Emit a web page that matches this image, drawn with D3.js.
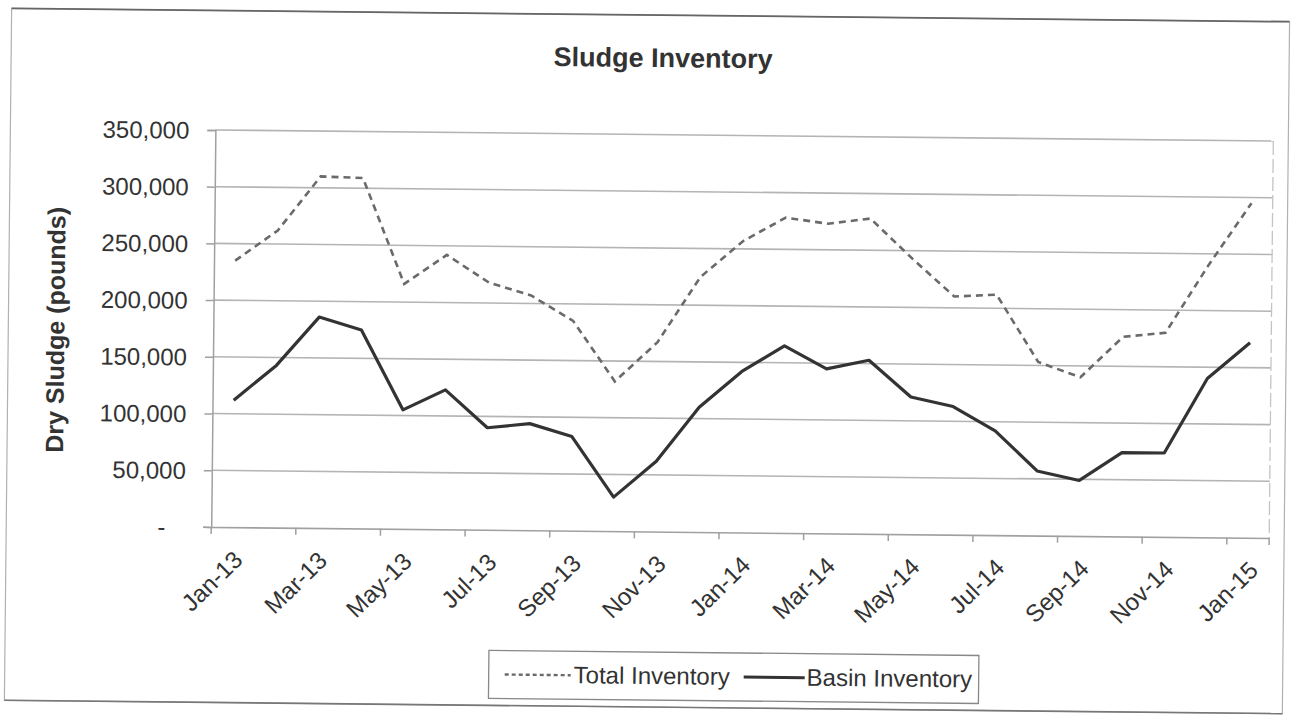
<!DOCTYPE html>
<html>
<head>
<meta charset="utf-8">
<script src="https://cdn.jsdelivr.net/npm/d3@7"></script>
<style>
  html, body { margin: 0; padding: 0; background: #fff; }
  svg { display: block; font-family: "Liberation Sans", Arial, sans-serif; }
</style>
</head>
<body>
<svg id="chart" width="1294" height="719"></svg>
<script>
const months = ["Jan-13","Feb-13","Mar-13","Apr-13","May-13","Jun-13","Jul-13","Aug-13","Sep-13","Oct-13","Nov-13","Dec-13",
                "Jan-14","Feb-14","Mar-14","Apr-14","May-14","Jun-14","Jul-14","Aug-14","Sep-14","Oct-14","Nov-14","Dec-14","Jan-15"];
const totalInventory = [235000, 262000, 310000, 309000, 216000, 242000, 218000, 207000, 185000, 132000, 167000, 225000,
                        257000, 278000, 273000, 278000, 243000, 210000, 212000, 153000, 140000, 176000, 180000, 240000, 295000];
const basinInventory = [112000, 143000, 186000, 175000, 105000, 123000, 90000, 94000, 83000, 30000, 62000, 110000,
                        142000, 165000, 145000, 153000, 121000, 113000, 92000, 57000, 49000, 74000, 74000, 140000, 172000];
const yTicks = [0, 50000, 100000, 150000, 200000, 250000, 300000, 350000];
const seriesNames = ["Total Inventory", "Basin Inventory"];

const svg = d3.select("#chart");
const W = 1294, H = 719;
const root = svg.append("g").attr("transform", `rotate(0.6, ${W/2}, ${H/2})`);

// outer frame
root.append("rect").attr("x", 8).attr("y", 15).attr("width", 1278).attr("height", 692)
  .attr("fill", "none").attr("stroke", "#b0b0b0").attr("stroke-width", 1.2);
root.append("line").attr("x1", 8).attr("x2", 1286).attr("y1", 15).attr("y2", 15)
  .attr("stroke", "#666").attr("stroke-width", 1.8);
root.append("line").attr("x1", 8).attr("x2", 1286).attr("y1", 707).attr("y2", 707)
  .attr("stroke", "#777").attr("stroke-width", 1.6);

const plot = {left: 213, right: 1271, top: 134.5, bottom: 531.5};
const x = d3.scaleBand().domain(months).range([plot.left, plot.right]).paddingInner(0).paddingOuter(0);
const cx = d => x(d) + x.bandwidth() / 2;
const y = d3.scaleLinear().domain([0, 350000]).range([plot.bottom, plot.top]);

// gridlines
root.append("g").selectAll("line").data(yTicks.filter(v => v > 0)).join("line")
  .attr("x1", plot.left).attr("x2", plot.right)
  .attr("y1", d => y(d)).attr("y2", d => y(d))
  .attr("stroke", "#b4b4b4").attr("stroke-width", 1.6);

// right border of plot area
root.append("line").attr("x1", plot.right).attr("x2", plot.right).attr("y1", plot.top).attr("y2", plot.bottom)
  .attr("stroke", "#c4c4c4").attr("stroke-width", 1.3).attr("stroke-dasharray", "14,4");

// y axis
const yAxis = d3.axisLeft(y).tickValues(yTicks).tickSize(8).tickPadding(18)
  .tickFormat(d => d === 0 ? "-" : d3.format(",")(d));
const yg = root.append("g").attr("transform", `translate(${plot.left},0)`).call(yAxis);
yg.select(".domain").attr("stroke", "#a0a0a0").attr("stroke-width", 1.5);
yg.selectAll(".tick line").attr("stroke", "#a0a0a0").attr("stroke-width", 1.5);
yg.selectAll(".tick text").attr("fill", "#333").attr("font-size", 24)
  .attr("font-family", "'Liberation Sans', Arial, sans-serif")
  .attr("dx", d => d === 0 ? -20 : 0).attr("dy", "0.35em");

// x axis
const labeled = months.filter((m, i) => i % 2 === 0);
const xAxis = d3.axisBottom(x).tickValues([]).tickSize(0);
const xg = root.append("g").attr("transform", `translate(0,${plot.bottom})`).call(xAxis);
xg.select(".domain").attr("stroke", "#a0a0a0").attr("stroke-width", 1.6);
xg.selectAll(".mtick").data(labeled.concat(["__end"])).join("line").attr("class", "mtick")
  .attr("x1", d => d === "__end" ? plot.right : x(d)).attr("x2", d => d === "__end" ? plot.right : x(d))
  .attr("y1", 0).attr("y2", 7).attr("stroke", "#a0a0a0").attr("stroke-width", 1.5);
xg.selectAll(".mlabel").data(labeled).join("text").attr("class", "mlabel")
  .attr("transform", d => `translate(${cx(d) + 12},${34}) rotate(-45)`)
  .attr("text-anchor", "end").attr("fill", "#333").attr("font-size", 24)
  .text(d => d);

// lines
const line = d3.line().x((d, i) => cx(months[i])).y(d => y(d));
root.append("path").datum(totalInventory).attr("d", line)
  .attr("fill", "none").attr("stroke", "#6a6a6a").attr("stroke-width", 2.6)
  .attr("stroke-dasharray", "7,5");
root.append("path").datum(basinInventory).attr("d", line)
  .attr("fill", "none").attr("stroke", "#333").attr("stroke-width", 3.2).attr("stroke-linejoin", "round");

// title
root.append("text").attr("x", 660).attr("y", 67).attr("text-anchor", "middle")
  .attr("font-size", 27).attr("font-weight", "bold").attr("fill", "#333").text("Sludge Inventory");

// y axis title
root.append("text").attr("transform", "translate(64,336) rotate(-90)").attr("text-anchor", "middle")
  .attr("font-size", 25).attr("font-weight", "bold").attr("fill", "#333").text("Dry Sludge (pounds)");

// legend
const lg = root.append("g");
lg.append("rect").attr("x", 492).attr("y", 652).attr("width", 490).attr("height", 48)
  .attr("fill", "none").attr("stroke", "#888").attr("stroke-width", 1.3);
lg.append("line").attr("x1", 508).attr("x2", 574).attr("y1", 676).attr("y2", 676)
  .attr("stroke", "#6a6a6a").attr("stroke-width", 2.4).attr("stroke-dasharray", "4,3");
lg.append("text").attr("x", 577).attr("y", 684).attr("font-size", 24).attr("fill", "#333").text(seriesNames[0]);
lg.append("line").attr("x1", 747).attr("x2", 808).attr("y1", 676).attr("y2", 676)
  .attr("stroke", "#333").attr("stroke-width", 3);
lg.append("text").attr("x", 810).attr("y", 684).attr("font-size", 24).attr("fill", "#333").text(seriesNames[1]);
</script>
</body>
</html>
